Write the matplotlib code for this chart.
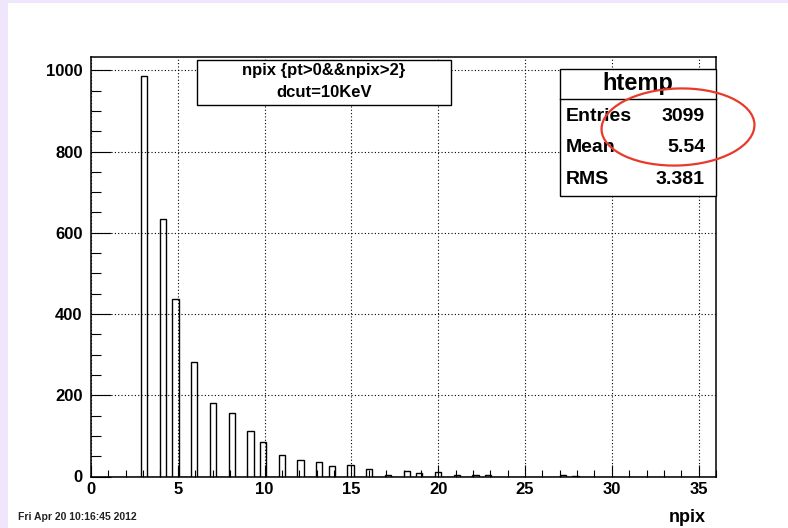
import numpy as np
import matplotlib
matplotlib.use('Agg')
import matplotlib.pyplot as plt
from matplotlib.patches import Rectangle, Ellipse
from matplotlib.ticker import MultipleLocator

# npix value -> entries
npix = [3, 4, 5, 6, 7, 8, 9, 10, 11, 12, 13, 14, 15, 16,
        17, 18, 19, 20, 21, 22, 23, 27, 28]
counts = [985, 634, 436, 281, 182, 156, 113, 85, 54, 41, 36, 25, 28, 18,
          3, 13, 9, 12, 3, 3, 3, 3, 2]

# ROOT htemp binning: 100 bins over [0, 36]
n_bins = 100
x_lo, x_hi = 0, 36
y_hi = 1034

stat_names = ['Entries', 'Mean', 'RMS']
stat_values = ['3099', '5.54', '3.381']
title_lines = ['npix {pt>0&&npix>2}', 'dcut=10KeV']
date_text = 'Fri Apr 20 10:16:45 2012'

W, H = 788, 528
font = ['Liberation Sans', 'DejaVu Sans']
plt.rcParams['font.family'] = font

fig = plt.figure(figsize=(W / 100, H / 100), dpi=100)
fig.patch.set_facecolor('white')

# lavender canvas edge
lav = '#efe6fb'
fig.patches.append(Rectangle((0, 0), 8 / W, 1, transform=fig.transFigure,
                             facecolor=lav, edgecolor='none', zorder=0))
fig.patches.append(Rectangle((0, 1 - 3 / H), 1, 3 / H, transform=fig.transFigure,
                             facecolor=lav, edgecolor='none', zorder=0))


def fx(x):
    return x / W


def fy(y):
    return 1 - y / H


left, right, top, bottom = 91, 716, 56.5, 476.5
ax = fig.add_axes([fx(left), fy(bottom), fx(right) - fx(left), fy(top) - fy(bottom)])

edges = np.linspace(x_lo, x_hi, n_bins + 1)
ax.hist(npix, bins=edges, weights=counts, histtype='step', color='black', lw=1.0)

ax.set_xlim(x_lo, x_hi)
ax.set_ylim(0, y_hi)
ax.xaxis.set_major_locator(MultipleLocator(5))
ax.xaxis.set_minor_locator(MultipleLocator(1))
ax.yaxis.set_major_locator(MultipleLocator(200))
ax.yaxis.set_minor_locator(MultipleLocator(50))
ax.grid(True, which='major', color='black', linestyle=(0, (1, 2)), lw=0.8)

ax.tick_params(axis='x', which='major', direction='in', length=9, width=0.8, pad=4)
ax.tick_params(axis='x', which='minor', direction='in', length=4.8, width=0.8)
ax.tick_params(axis='y', which='major', direction='in', length=14.4, width=0.8, pad=6)
ax.tick_params(axis='y', which='minor', direction='in', length=7.2, width=0.8)
for lab in ax.get_xticklabels() + ax.get_yticklabels():
    lab.set_fontweight('bold')
    lab.set_fontsize(12)
for s in ax.spines.values():
    s.set_linewidth(1.1)

# title pave
fig.patches.append(Rectangle((fx(197), fy(105)), fx(451) - fx(197), fy(60) - fy(105),
                             transform=fig.transFigure, facecolor='white',
                             edgecolor='black', lw=1.0, zorder=5))
fig.text(fx(324), fy(71), title_lines[0], ha='center', va='center',
         fontsize=12, fontweight='bold', zorder=6)
fig.text(fx(324), fy(92), title_lines[1], ha='center', va='center',
         fontsize=12, fontweight='bold', zorder=6)

# stats box
bx0, bx1, by0, by1, sep = 559.5, 715.7, 69.3, 195.7, 99.3
fig.patches.append(Rectangle((fx(bx0), fy(by1)), fx(bx1) - fx(bx0), fy(by0) - fy(by1),
                             transform=fig.transFigure, facecolor='white',
                             edgecolor='black', lw=1.0, zorder=5))
fig.lines.append(plt.Line2D([fx(bx0), fx(bx1)], [fy(sep), fy(sep)],
                            transform=fig.transFigure, color='black', lw=1.0, zorder=6))
fig.text(fx(637.5), fy(90), 'htemp', ha='center', va='baseline',
         fontsize=17, fontweight='bold', zorder=6)
for i, (name, val) in enumerate(zip(stat_names, stat_values)):
    yy = 116.5 + i * 31.5
    fig.text(fx(566), fy(yy), name, ha='left', va='center',
             fontsize=14, fontweight='bold', zorder=6)
    fig.text(fx(705), fy(yy), val, ha='right', va='center',
             fontsize=14, fontweight='bold', zorder=6)

# red ellipse highlight
fig.patches.append(Ellipse((678 / 100, (H - 127) / 100), 1.53, 0.77, angle=2,
                           transform=fig.dpi_scale_trans, facecolor='none',
                           edgecolor='#e8392a', lw=1.6, zorder=10))

# axis title and date stamp
fig.text(fx(706), fy(518), 'npix', ha='right', va='center',
         fontsize=13, fontweight='bold')
fig.text(fx(18), fy(517), date_text, ha='left', va='center',
         fontsize=7.5, fontweight='bold', color='#222222')

fig.savefig('out.png', dpi=100)
